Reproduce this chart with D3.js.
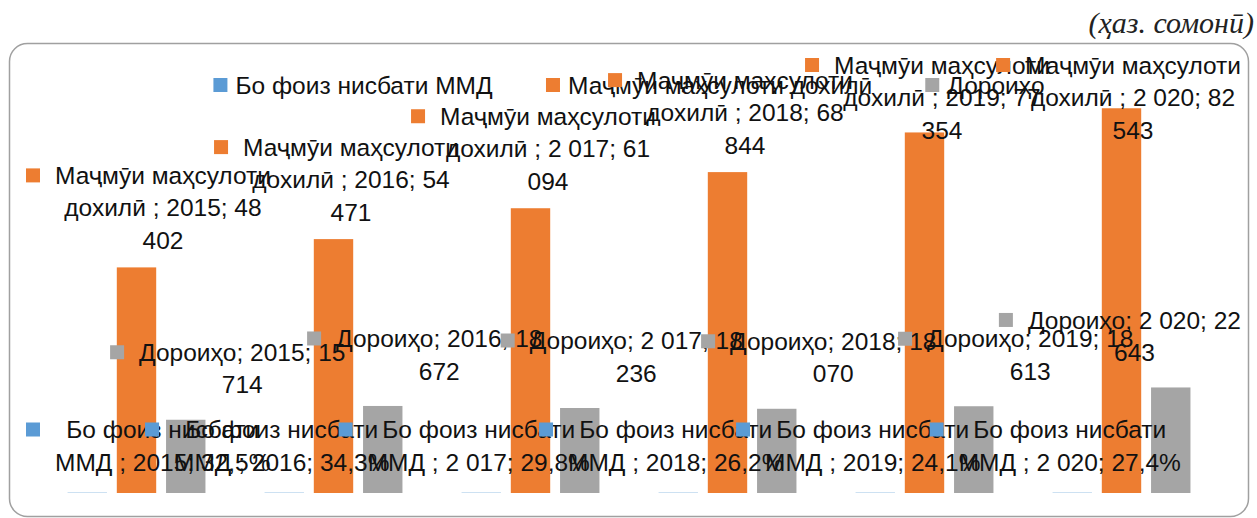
<!DOCTYPE html>
<html>
<head>
<meta charset="utf-8">
<script src="https://cdn.jsdelivr.net/npm/d3@7"></script>
<style>
  html, body { margin: 0; padding: 0; background: #fff; }
  svg { display: block; }
</style>
</head>
<body>
<div id="chart"></div>
<script>
// categories (as the year labels appear in the source)
const years = ["2015", "2016", "2 017", "2018", "2019", "2 020"];

// series names (trailing space is part of the original label text)
const seriesNames = ["Бо фоиз нисбати ММД ", "Маҷмӯи маҳсулоти дохилӣ ", "Дороиҳо"];

// values
const percentGdp = [32.5, 34.3, 29.8, 26.2, 24.1, 27.4];   // % of GDP
const gdp = [48402, 54471, 61094, 68844, 77354, 82543];     // хаз. сомонӣ
const assets = [15714, 18672, 18236, 18070, 18613, 22643];  // хаз. сомонӣ

const unitLabel = "(ҳаз. сомонӣ)";

const width = 1257, height = 518;
const colors = ["#5b9bd5", "#ed7d31", "#a5a5a5"];
const font = "'Liberation Sans', Arial, sans-serif";
const fontSize = 24.5;
const lineH = 32.5;

const fmtThousands = v => d3.format(",d")(v).replace(/,/g, " ");
const fmtPct = v => d3.format(".1f")(v).replace(".", ",") + "%";

// series as plotted: the percent series lives on the same axis as fractions
const series = seriesNames.map((name, s) => ({
  name,
  key: name.trim(),
  color: colors[s],
  values: s === 0 ? percentGdp.map(v => v / 100) : s === 1 ? gdp : assets,
  text: s === 0 ? percentGdp.map(fmtPct) : (s === 1 ? gdp : assets).map(fmtThousands)
}));

// label placement per series: horizontal shift of the label box, gap above bar
const labelShift = [-17, 3, 42];
const labelGap = [31, 27, 35];

const svg = d3.select("#chart").append("svg")
  .attr("width", width)
  .attr("height", height)
  .attr("viewBox", [0, 0, width, height])
  .style("font-family", font);

// unit note
svg.append("text")
  .attr("x", 1254)
  .attr("y", 33)
  .attr("text-anchor", "end")
  .attr("font-family", "'Liberation Serif', 'Times New Roman', serif")
  .attr("font-style", "italic")
  .attr("font-size", 30)
  .attr("fill", "#222")
  .text(unitLabel);

// chart frame
svg.append("rect")
  .attr("x", 9.5).attr("y", 43.5)
  .attr("width", 1239).attr("height", 473)
  .attr("rx", 18).attr("ry", 18)
  .attr("fill", "none")
  .attr("stroke", "#a0a0a0")
  .attr("stroke-width", 1.5);

const x0 = d3.scaleBand().domain(years).range([38, 1220]);
const x1 = d3.scaleBand().domain(d3.range(series.length))
  .range([0, x0.bandwidth()])
  .paddingInner(0.2).paddingOuter(0.6);
const y = d3.scaleLinear().domain([0, 90000]).range([493, 73.5]);

// bars
const groups = svg.append("g").selectAll("g")
  .data(series)
  .join("g")
  .attr("fill", d => d.color);

groups.selectAll("rect")
  .data((d, s) => d.values.map((v, i) => ({v, i, s})))
  .join("rect")
  .attr("x", d => x0(years[d.i]) + x1(d.s))
  .attr("width", x1.bandwidth())
  .attr("y", d => Math.min(y(d.v), y(0) - 1))
  .attr("height", d => Math.max(y(0) - y(d.v), 1))
  .attr("fill-opacity", d => y(0) - y(d.v) < 1 ? 0.3 : 1);

// legend
const legend = svg.append("g").attr("font-size", fontSize).attr("fill", "#111");
const items = legend.selectAll("g")
  .data(series)
  .join("g");
items.append("rect")
  .attr("width", 14).attr("height", 14)
  .attr("y", -7)
  .attr("fill", d => d.color);
items.append("text")
  .attr("x", 22)
  .attr("dy", "0.35em")
  .text(d => d.key);
let lx = 0;
const itemW = [];
items.each(function () { itemW.push(this.getBBox().width); });
const legendGap = 53;
const legendTotal = d3.sum(itemW) + legendGap * (itemW.length - 1);
lx = 629 - legendTotal / 2;
items.attr("transform", (d, i) => {
  const t = `translate(${lx},85)`;
  lx += itemW[i] + legendGap;
  return t;
});

// data labels (text wrapped like the spreadsheet does)
const wrapWidth = 232;
const measure = svg.append("text").attr("font-size", fontSize).attr("visibility", "hidden");
function textW(s) { measure.text(s); return measure.node().getComputedTextLength(); }
function wrap(str) {
  const words = str.split(" ");
  const lines = [];
  let cur = "";
  for (const w of words) {
    const t = cur ? cur + " " + w : w;
    if (cur && textW(t) > wrapWidth) { lines.push(cur); cur = w; }
    else cur = t;
  }
  if (cur) lines.push(cur);
  return lines;
}

const labels = svg.append("g").attr("font-size", fontSize).attr("fill", "#111");
const keySize = 14, keyGap = 15;
const minLeft = 26, maxRight = 1241, minFirst = 65;

series.forEach((sr, s) => {
  sr.values.forEach((v, i) => {
    const lines = wrap(`${sr.name}; ${years[i]}; ${sr.text[i]}`);
    const tw = d3.max(lines, textW);
    const boxW = keySize + keyGap + tw;
    const barCx = x0(years[i]) + x1(s) + x1.bandwidth() / 2;
    let left = barCx + labelShift[s] - boxW / 2;
    left = Math.max(minLeft, Math.min(left, maxRight - boxW));
    let first = y(v) - labelGap[s] - (lines.length - 1) * lineH;
    first = Math.max(first, minFirst);
    const g = labels.append("g");
    g.append("rect")
      .attr("x", left).attr("y", first - keySize / 2)
      .attr("width", keySize).attr("height", keySize)
      .attr("fill", sr.color);
    const cx = left + keySize + keyGap + tw / 2;
    g.selectAll("text")
      .data(lines)
      .join("text")
      .attr("x", cx)
      .attr("y", (d, k) => first + k * lineH)
      .attr("dy", "0.35em")
      .attr("text-anchor", "middle")
      .text(d => d);
  });
});
measure.remove();
</script>
</body>
</html>
